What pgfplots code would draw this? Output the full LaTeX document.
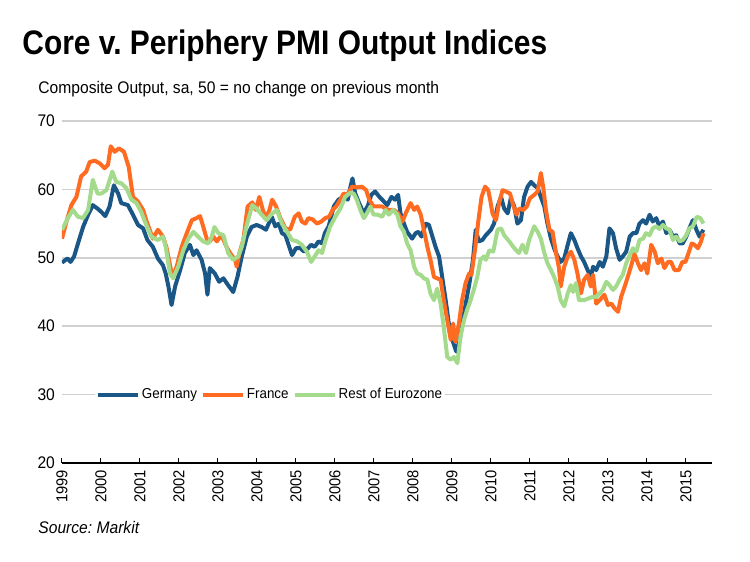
\documentclass[border=0pt]{standalone}
\usepackage{fontspec}
\setmainfont{Liberation Sans}[FakeStretch=0.93]
\newfontfamily\titlefont{Liberation Sans}[FakeStretch=0.88]
\usepackage{pgfplots}
\pgfplotsset{compat=1.18}
\definecolor{ger}{RGB}{26,87,135}
\definecolor{fra}{RGB}{255,107,33}
\definecolor{roe}{RGB}{163,218,139}
\definecolor{gridc}{RGB}{208,208,208}
\begin{document}
\frenchspacing
\begin{tikzpicture}
\path[use as bounding box] (0pt,0pt) rectangle (375pt,281pt);
\node[anchor=west, font=\titlefont\bfseries\fontsize{17}{19}\selectfont, inner sep=0] at (11pt,258pt) {Core v. Periphery PMI Output Indices};
\node[anchor=west, font=\fontsize{8.4}{10}\selectfont, inner sep=0] at (19pt,236.5pt) {Composite Output, sa, 50 = no change on previous month};
\node[anchor=west, font=\itshape\fontsize{8.4}{10}\selectfont, inner sep=0] at (19pt,17.5pt) {Source: Markit};
\begin{axis}[at={(31pt,49.5pt)}, anchor=south west, scale only axis, width=325pt, height=171pt,
 xmin=1999, xmax=2015.67, ymin=20, ymax=70, ytick={20,30,...,70}, xtick={1999,2000,...,2015},
 axis x line*=bottom, axis y line*=left,
 y axis line style={draw=none}, ytick style={draw=none},
 x axis line style={black, line width=0.6pt, -},
 xtick style={black, line width=0.5pt}, tick align=inside, major tick length=2.5pt,
 ymajorgrids, grid style={gridc, line width=0.8pt},
 xticklabel style={rotate=90, anchor=east, font=\fontsize{7.9}{9}\selectfont},
 yticklabel style={font=\fontsize{8.4}{10}\selectfont},
 /pgf/number format/assume math mode=true, /pgf/number format/1000 sep={},
 legend columns=3,
 legend style={at={(0.32,0.199)}, anchor=center, draw=none, fill=white, font=\fontsize{7.2}{8.5}\selectfont, /tikz/every even column/.append style={column sep=1pt}, inner sep=0.5pt, nodes={inner xsep=1pt}},
 legend cell align=left,
 legend image code/.code={\draw[#1, line width=2pt] (0pt,0pt) -- (20pt,0pt);},
 every axis plot/.append style={line width=2pt, line join=round, no marks}]
\addplot[ger] coordinates {(1999.0,49.3)(1999.14,49.9)(1999.22,49.4)(1999.31,50.2)(1999.41,52.1)(1999.54,54.5)(1999.67,56.3)(1999.79,57.7)(1999.91,57.2)(2000.01,56.7)(2000.11,56.1)(2000.22,57.5)(2000.33,60.6)(2000.44,59.4)(2000.52,58.0)(2000.69,57.7)(2000.82,56.3)(2000.95,54.8)(2001.08,54.3)(2001.19,52.6)(2001.33,51.6)(2001.46,49.9)(2001.59,48.9)(2001.66,47.7)(2001.73,45.8)(2001.81,43.1)(2001.90,45.8)(2002.03,48.2)(2002.15,50.7)(2002.28,51.9)(2002.37,50.4)(2002.45,51.1)(2002.58,49.7)(2002.67,47.7)(2002.73,44.6)(2002.79,48.5)(2002.92,47.7)(2003.03,46.5)(2003.14,47.0)(2003.26,46.0)(2003.39,45.0)(2003.50,47.2)(2003.61,50.2)(2003.74,53.1)(2003.86,54.5)(2003.99,54.8)(2004.12,54.5)(2004.23,54.1)(2004.38,56.0)(2004.47,54.6)(2004.56,55.0)(2004.64,53.6)(2004.73,53.3)(2004.81,51.9)(2004.90,50.4)(2005.0,51.4)(2005.11,51.4)(2005.21,50.9)(2005.31,51.4)(2005.39,51.9)(2005.48,51.6)(2005.58,52.4)(2005.67,52.1)(2005.74,53.6)(2005.84,54.6)(2005.97,57.5)(2006.09,58.5)(2006.22,58.9)(2006.33,58.5)(2006.39,60.2)(2006.45,61.6)(2006.52,59.4)(2006.62,58.0)(2006.74,56.5)(2006.85,57.7)(2006.93,59.2)(2007.03,59.7)(2007.14,58.9)(2007.21,58.5)(2007.26,58.2)(2007.34,57.7)(2007.45,58.9)(2007.54,58.5)(2007.62,59.2)(2007.68,56.5)(2007.77,55.0)(2007.85,53.8)(2007.98,52.8)(2008.07,53.6)(2008.14,53.8)(2008.22,53.1)(2008.33,55.0)(2008.41,54.8)(2008.50,53.1)(2008.58,51.6)(2008.67,50.2)(2008.75,47.2)(2008.84,43.8)(2008.92,40.4)(2009.01,38.0)(2009.11,36.3)(2009.20,38.0)(2009.28,40.9)(2009.37,43.8)(2009.45,46.3)(2009.54,49.7)(2009.61,54.1)(2009.69,52.4)(2009.78,52.6)(2009.87,53.3)(2010.0,54.1)(2010.08,55.0)(2010.17,57.5)(2010.26,58.9)(2010.34,57.2)(2010.43,56.5)(2010.51,58.7)(2010.60,57.5)(2010.68,55.0)(2010.77,55.5)(2010.85,58.9)(2010.94,60.4)(2011.03,61.1)(2011.11,60.6)(2011.20,60.2)(2011.28,58.9)(2011.37,57.5)(2011.45,55.0)(2011.54,52.8)(2011.62,51.4)(2011.71,50.2)(2011.79,49.4)(2011.88,49.9)(2011.97,51.9)(2012.05,53.6)(2012.14,52.6)(2012.22,51.4)(2012.31,50.2)(2012.39,49.4)(2012.48,48.2)(2012.56,47.2)(2012.62,48.7)(2012.70,48.2)(2012.79,49.4)(2012.87,48.7)(2012.96,50.2)(2013.04,54.3)(2013.13,53.6)(2013.21,51.4)(2013.30,49.7)(2013.38,50.2)(2013.47,50.9)(2013.56,53.1)(2013.64,53.6)(2013.73,53.6)(2013.81,55.0)(2013.90,55.5)(2013.98,55.0)(2014.07,56.3)(2014.15,55.3)(2014.24,55.8)(2014.32,54.6)(2014.41,55.3)(2014.50,53.6)(2014.58,54.1)(2014.67,53.1)(2014.75,53.3)(2014.84,52.1)(2014.92,52.1)(2015.01,53.1)(2015.09,54.3)(2015.18,55.5)(2015.27,54.1)(2015.35,53.1)(2015.45,54.1)};
\addlegendentry{Germany}
\addplot[fra] coordinates {(1999.0,52.8)(1999.11,55.2)(1999.24,57.7)(1999.37,58.9)(1999.49,61.9)(1999.62,62.6)(1999.71,64.0)(1999.84,64.2)(1999.97,63.8)(2000.09,63.1)(2000.18,63.6)(2000.25,66.3)(2000.35,65.5)(2000.46,66.0)(2000.59,65.5)(2000.71,63.3)(2000.82,58.9)(2000.95,58.2)(2001.08,57.0)(2001.16,55.5)(2001.33,52.8)(2001.46,54.1)(2001.59,53.1)(2001.68,51.5)(2001.75,49.5)(2001.83,47.2)(2001.94,48.7)(2002.07,51.6)(2002.20,53.6)(2002.33,55.5)(2002.45,55.8)(2002.54,56.1)(2002.62,54.6)(2002.71,52.8)(2002.79,52.4)(2002.88,53.1)(2002.97,52.4)(2003.09,53.3)(2003.22,51.6)(2003.31,50.7)(2003.44,49.7)(2003.48,48.7)(2003.56,50.9)(2003.65,52.6)(2003.76,57.5)(2003.88,58.1)(2003.97,57.0)(2004.06,58.9)(2004.15,57.0)(2004.23,55.8)(2004.32,57.0)(2004.39,58.5)(2004.49,57.5)(2004.60,55.8)(2004.73,54.3)(2004.85,54.1)(2004.97,56.0)(2005.07,56.5)(2005.15,55.3)(2005.24,55.0)(2005.32,55.8)(2005.43,55.6)(2005.54,55.0)(2005.65,55.3)(2005.75,55.8)(2005.85,56.0)(2005.94,57.0)(2006.03,57.5)(2006.14,58.5)(2006.22,59.4)(2006.31,59.2)(2006.44,60.4)(2006.56,60.3)(2006.69,60.4)(2006.80,59.9)(2006.88,58.5)(2006.99,57.5)(2007.10,57.5)(2007.21,57.5)(2007.30,57.2)(2007.38,57.0)(2007.51,57.0)(2007.62,56.5)(2007.73,55.3)(2007.83,56.7)(2007.94,58.0)(2008.03,57.0)(2008.11,57.5)(2008.20,56.3)(2008.28,54.1)(2008.37,51.6)(2008.45,49.7)(2008.54,47.2)(2008.62,47.0)(2008.71,46.8)(2008.79,43.8)(2008.88,40.9)(2008.97,38.0)(2009.03,40.4)(2009.09,37.7)(2009.18,40.4)(2009.26,43.8)(2009.35,46.3)(2009.44,47.7)(2009.50,47.5)(2009.59,51.1)(2009.68,55.5)(2009.76,58.9)(2009.85,60.4)(2009.93,59.9)(2009.98,58.5)(2010.04,56.5)(2010.13,55.5)(2010.21,58.0)(2010.30,59.9)(2010.38,59.7)(2010.49,59.4)(2010.57,57.7)(2010.66,56.3)(2010.72,57.2)(2010.83,57.0)(2010.92,57.5)(2011.0,58.7)(2011.11,59.2)(2011.20,59.7)(2011.28,62.4)(2011.34,60.4)(2011.41,57.0)(2011.50,54.1)(2011.58,53.8)(2011.67,50.7)(2011.74,48.7)(2011.79,45.8)(2011.88,48.7)(2011.97,50.2)(2012.05,50.9)(2012.14,49.7)(2012.22,47.7)(2012.31,44.8)(2012.39,46.8)(2012.48,47.5)(2012.56,45.8)(2012.62,47.5)(2012.70,43.3)(2012.79,43.8)(2012.91,44.6)(2013.00,43.1)(2013.09,43.3)(2013.17,42.6)(2013.26,42.1)(2013.34,44.3)(2013.43,45.8)(2013.51,47.2)(2013.60,48.9)(2013.68,50.6)(2013.77,49.2)(2013.85,48.2)(2013.94,49.2)(2014.01,47.7)(2014.11,51.9)(2014.20,50.9)(2014.28,49.2)(2014.37,49.9)(2014.45,48.5)(2014.54,49.4)(2014.62,49.4)(2014.71,48.2)(2014.82,48.2)(2014.91,49.4)(2014.99,49.4)(2015.08,50.9)(2015.15,52.1)(2015.22,51.9)(2015.31,51.4)(2015.39,52.4)(2015.45,53.6)};
\addlegendentry{France}
\addplot[roe] coordinates {(1999.0,54.1)(1999.15,55.8)(1999.28,57.0)(1999.41,56.0)(1999.54,55.8)(1999.67,57.0)(1999.79,61.4)(1999.91,59.4)(2000.01,59.4)(2000.14,59.9)(2000.29,62.6)(2000.39,61.1)(2000.52,60.9)(2000.65,60.2)(2000.78,58.5)(2000.91,58.0)(2001.03,56.7)(2001.16,54.8)(2001.29,53.1)(2001.46,52.6)(2001.59,53.1)(2001.66,51.6)(2001.77,47.7)(2001.85,47.0)(2001.98,48.7)(2002.11,51.1)(2002.24,52.8)(2002.37,53.8)(2002.49,53.1)(2002.62,52.4)(2002.75,52.1)(2002.84,53.1)(2002.91,54.5)(2003.01,53.6)(2003.14,53.3)(2003.26,50.7)(2003.39,49.7)(2003.52,50.2)(2003.61,51.6)(2003.74,54.8)(2003.88,57.7)(2003.99,57.2)(2004.12,56.3)(2004.25,55.5)(2004.36,56.3)(2004.51,57.0)(2004.64,55.0)(2004.77,53.8)(2004.90,52.6)(2005.03,52.4)(2005.15,51.9)(2005.28,50.9)(2005.39,49.4)(2005.48,50.2)(2005.58,51.1)(2005.67,50.7)(2005.75,52.4)(2005.88,54.6)(2006.01,56.0)(2006.14,57.2)(2006.26,58.9)(2006.39,59.5)(2006.48,59.4)(2006.56,58.5)(2006.65,57.0)(2006.74,55.8)(2006.82,56.5)(2006.91,57.5)(2006.99,56.3)(2007.10,56.3)(2007.21,56.0)(2007.30,57.0)(2007.38,56.3)(2007.49,57.0)(2007.60,56.3)(2007.68,54.6)(2007.77,53.8)(2007.85,52.1)(2007.94,51.1)(2008.03,48.7)(2008.11,47.7)(2008.20,47.5)(2008.28,47.0)(2008.37,46.8)(2008.45,44.8)(2008.54,43.8)(2008.62,45.5)(2008.71,43.3)(2008.79,39.9)(2008.88,35.5)(2008.97,35.1)(2009.05,35.5)(2009.14,34.6)(2009.22,38.5)(2009.31,40.9)(2009.39,42.4)(2009.48,43.8)(2009.56,45.3)(2009.65,47.2)(2009.73,49.7)(2009.82,50.2)(2009.87,49.7)(2009.96,51.1)(2010.06,50.9)(2010.17,54.1)(2010.26,54.3)(2010.34,53.3)(2010.47,52.4)(2010.60,51.4)(2010.72,50.7)(2010.81,51.9)(2010.90,50.7)(2010.98,52.6)(2011.11,54.6)(2011.20,53.8)(2011.28,52.8)(2011.37,50.7)(2011.45,49.2)(2011.54,48.2)(2011.62,47.2)(2011.71,45.8)(2011.79,43.8)(2011.88,42.9)(2011.97,44.8)(2012.05,46.0)(2012.11,45.0)(2012.18,46.3)(2012.26,43.8)(2012.39,43.8)(2012.52,44.1)(2012.62,44.3)(2012.70,44.3)(2012.79,44.8)(2012.87,45.3)(2012.96,46.5)(2013.04,46.0)(2013.13,45.3)(2013.21,45.8)(2013.30,46.8)(2013.38,47.5)(2013.47,49.2)(2013.56,50.4)(2013.64,51.4)(2013.73,50.9)(2013.81,52.6)(2013.90,52.8)(2013.98,53.6)(2014.07,53.3)(2014.15,54.3)(2014.24,54.6)(2014.32,54.2)(2014.41,54.8)(2014.50,54.3)(2014.58,54.1)(2014.67,52.6)(2014.75,53.1)(2014.84,52.4)(2014.92,52.6)(2015.01,53.3)(2015.09,54.3)(2015.18,54.6)(2015.28,56.0)(2015.37,55.8)(2015.45,55.0)};
\addlegendentry{Rest of Eurozone}
\end{axis}
\end{tikzpicture}
\end{document}
